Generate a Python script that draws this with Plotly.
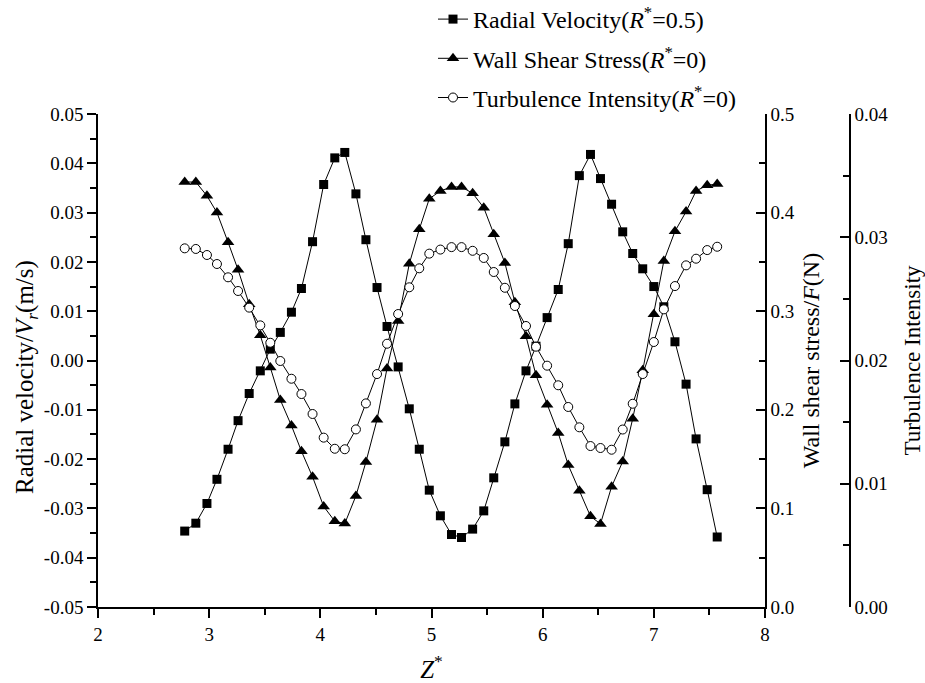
import plotly.graph_objects as go

# Z* positions (shared by all series)
z = [2.78, 2.88, 2.98, 3.07, 3.17, 3.26, 3.36, 3.46, 3.55, 3.64,
     3.74, 3.83, 3.93, 4.03, 4.13, 4.22, 4.32, 4.41, 4.51, 4.60,
     4.70, 4.80, 4.89, 4.98, 5.08, 5.18, 5.27, 5.37, 5.47, 5.56,
     5.66, 5.75, 5.85, 5.94, 6.04, 6.14, 6.23, 6.33, 6.43, 6.52,
     6.62, 6.72, 6.81, 6.90, 7.00, 7.09, 7.19, 7.29, 7.38, 7.48, 7.57]

radial_velocity = [-0.0346, -0.0330, -0.0290, -0.0241, -0.0180, -0.0122, -0.0067, -0.0021, 0.0023, 0.0057,
                   0.0098, 0.0146, 0.0241, 0.0357, 0.0411, 0.0422, 0.0338, 0.0245, 0.0148, 0.0069,
                   -0.0013, -0.0098, -0.0180, -0.0263, -0.0315, -0.0353, -0.0359, -0.0342, -0.0305, -0.0238,
                   -0.0165, -0.0088, -0.0021, 0.0029, 0.0087, 0.0144, 0.0237, 0.0375, 0.0418, 0.0369,
                   0.0317, 0.0261, 0.0217, 0.0186, 0.0150, 0.0109, 0.0038, -0.0048, -0.0159, -0.0262, -0.0358]

wall_shear = [0.431, 0.431, 0.417, 0.400, 0.370, 0.342, 0.307, 0.2755, 0.243, 0.210,
              0.184, 0.158, 0.132, 0.102, 0.087, 0.0846, 0.1127, 0.147, 0.190, 0.242,
              0.290, 0.348, 0.383, 0.414, 0.422, 0.426, 0.426, 0.4196, 0.405, 0.378,
              0.349, 0.309, 0.2746, 0.235, 0.205, 0.1765, 0.144, 0.118, 0.092, 0.0843,
              0.122, 0.1475, 0.191, 0.240, 0.297, 0.351, 0.381, 0.401, 0.422, 0.4277, 0.429]

turbulence = [0.0291, 0.02905, 0.02856, 0.02783, 0.02675, 0.02564, 0.02429, 0.02285, 0.02144, 0.01996,
              0.01852, 0.01728, 0.01566, 0.01374, 0.01284, 0.0128, 0.01441, 0.01652, 0.0189, 0.02136,
              0.02377, 0.02594, 0.02748, 0.02867, 0.0290, 0.0292, 0.0292, 0.0289, 0.02832, 0.02718,
              0.0259, 0.02442, 0.0228, 0.02112, 0.01958, 0.01799, 0.01623, 0.01458, 0.01306, 0.0129,
              0.01276, 0.0144, 0.01649, 0.0189, 0.0215, 0.02415, 0.02604, 0.02772, 0.02826, 0.02896, 0.02923]

series_names = ["Radial Velocity(<i>R</i><sup>*</sup>=0.5)",
                "Wall Shear Stress(<i>R</i><sup>*</sup>=0)",
                "Turbulence Intensity(<i>R</i><sup>*</sup>=0)"]

x_ticks = [2, 3, 4, 5, 6, 7, 8]
y1_ticks = [-0.05, -0.04, -0.03, -0.02, -0.01, 0.0, 0.01, 0.02, 0.03, 0.04, 0.05]
y1_labels = ["-0.05", "-0.04", "-0.03", "-0.02", "-0.01", "0.00", "0.01", "0.02", "0.03", "0.04", "0.05"]
y2_ticks = [0.0, 0.1, 0.2, 0.3, 0.4, 0.5]
y2_labels = ["0.0", "0.1", "0.2", "0.3", "0.4", "0.5"]
y3_ticks = [0.0, 0.01, 0.02, 0.03, 0.04]
y3_labels = ["0.00", "0.01", "0.02", "0.03", "0.04"]

FONT = "Liberation Serif, Times New Roman, serif"
W, H = 925, 683
L, R, T, B = 98, 75, 114, 76
x_right_px = 765
PW = W - L - R
PH = H - T - B
dom_end = (x_right_px - L) / PW

fig = go.Figure()
fig.add_trace(go.Scatter(
    x=z, y=radial_velocity, name=series_names[0], mode="lines+markers",
    line=dict(color="black", width=1),
    marker=dict(symbol="square", size=9, color="black"),
    legendgroup="a", yaxis="y"))
fig.add_trace(go.Scatter(
    x=z, y=wall_shear, name=series_names[1], mode="lines+markers",
    line=dict(color="black", width=1),
    marker=dict(symbol="triangle-up", size=11, color="black"),
    legendgroup="b", yaxis="y2"))
fig.add_trace(go.Scatter(
    x=z, y=turbulence, name=series_names[2], mode="lines+markers",
    line=dict(color="black", width=1),
    marker=dict(symbol="circle", size=9, color="white", line=dict(color="black", width=1)),
    legendgroup="c", yaxis="y3"))

axis_common = dict(showgrid=False, zeroline=False, showline=True, linecolor="black", linewidth=1.5,
                   tickcolor="black", tickwidth=1.5, ticklen=9, automargin=False,
                   tickfont=dict(family=FONT, size=19, color="black"))

fig.update_layout(
    width=W, height=H,
    margin=dict(l=L, r=R, t=T, b=B, autoexpand=False),
    paper_bgcolor="white", plot_bgcolor="white",
    font=dict(family=FONT, color="black"),
    showlegend=True,
    legend=dict(x=(433 - L) / PW, y=1 + (T + 3) / PH, xanchor="left", yanchor="top",
                font=dict(family=FONT, size=24, color="black"), bgcolor="rgba(0,0,0,0)",
                tracegroupgap=5, traceorder="grouped"),
    xaxis=dict(axis_common, domain=[0, dom_end], range=[2, 8], tickmode="array", tickvals=x_ticks,
               ticks="outside",
               minor=dict(dtick=0.5, tick0=2, ticks="outside", ticklen=6, tickcolor="black", tickwidth=1.5),
               title=dict(text="<i>Z</i><sup>*</sup>", font=dict(family=FONT, size=25), standoff=20)),
    yaxis=dict(axis_common, range=[-0.05, 0.05], tickmode="array", tickvals=y1_ticks, ticktext=y1_labels,
               ticks="outside",
               minor=dict(dtick=0.005, tick0=0, ticks="outside", ticklen=6, tickcolor="black", tickwidth=1.5)),
    yaxis2=dict(axis_common, range=[0, 0.5], overlaying="y", side="right", anchor="x",
                tickmode="array", tickvals=y2_ticks, ticktext=y2_labels, ticks="inside",
                minor=dict(dtick=0.05, tick0=0, ticks="inside", ticklen=6, tickcolor="black", tickwidth=1.5),
                title=dict(text="Wall shear stress/<i>F</i>(N)", font=dict(family=FONT, size=24), standoff=8)),
    yaxis3=dict(axis_common, range=[0, 0.04], overlaying="y", side="right", anchor="free", position=1.0,
                tickmode="array", tickvals=y3_ticks, ticktext=y3_labels, ticks="inside",
                minor=dict(dtick=0.005, tick0=0, ticks="inside", ticklen=6, tickcolor="black", tickwidth=1.5),
                title=dict(text="Turbulence Intensity", font=dict(family=FONT, size=23), standoff=18)),
    annotations=[dict(text="Radial velocity/<i>V</i><sub><i>r</i></sub>(m/s)", textangle=-90,
                      xref="paper", yref="paper", x=(26 - L) / PW, y=(H - B - 377) / PH,
                      xanchor="center", yanchor="middle", showarrow=False,
                      font=dict(family=FONT, size=25, color="black"))],
)

fig.write_html("out.html")
